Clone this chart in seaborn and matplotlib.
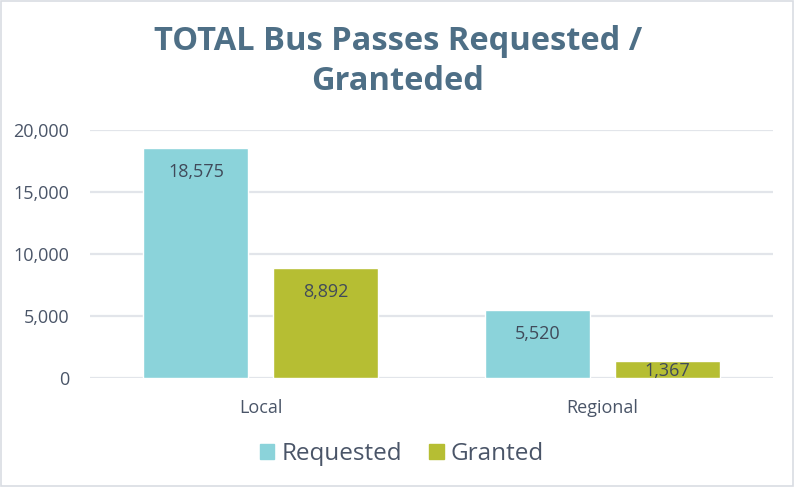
import matplotlib
matplotlib.use("Agg")
import matplotlib.pyplot as plt
import matplotlib.patches as mpatches
import seaborn as sns
import pandas as pd

categories = ["Local", "Regional"]
requested = [18575, 5520]
granted = [8892, 1367]
series_names = ["Requested", "Granted"]
yticks = [0, 5000, 10000, 15000, 20000]

colors = {"Requested": "#8bd3da", "Granted": "#b6be33"}
text_color = "#4a5568"
title_color = "#4e6f86"
grid_color = "#e2e5ea"

df = pd.DataFrame({
    "category": categories * 2,
    "series": [series_names[0]] * len(categories) + [series_names[1]] * len(categories),
    "value": requested + granted,
})

sns.set_theme(style="white")
plt.rcParams["font.family"] = ["Open Sans", "DejaVu Sans"]

fig = plt.figure(figsize=(7.94, 4.87), dpi=100)
ax = fig.add_axes([90 / 794, 1 - 378 / 487, (773 - 90) / 794, (378 - 130) / 487])

sns.barplot(data=df, x="category", y="value", hue="series", palette=colors,
            hue_order=series_names, order=categories, width=0.76, gap=0.19,
            saturation=1, legend=False, ax=ax)

ax.set_ylim(0, 20000)
ax.set_yticks(yticks)
ax.set_yticklabels([f"{v:,}" for v in yticks], fontsize=13, color=text_color)
ax.tick_params(axis="x", labelsize=13, colors=text_color, length=0, pad=15)
ax.tick_params(axis="y", length=0, pad=15)
ax.set_xlabel("")
ax.set_ylabel("")
ax.yaxis.grid(True, color=grid_color, linewidth=1.6)
ax.set_axisbelow(True)
for s in ax.spines.values():
    s.set_visible(False)

# value labels inside the top of each bar
px_per_unit = (378 - 130) / 20000
for bar in ax.patches:
    h = bar.get_height()
    if h <= 0:
        continue
    off_px = min(24, h * px_per_unit * 0.5 + 1)
    ax.annotate(f"{int(round(h)):,}", (bar.get_x() + bar.get_width() / 2, h),
                xytext=(0, -off_px * 0.72), textcoords="offset points",
                ha="center", va="center", fontsize=13, color="#404a5a")

title_kw = dict(ha="center", va="center", fontsize=23.5, fontweight="bold",
                color=title_color, family=["Open Sans", "DejaVu Sans"])
fig.text(398 / 794, 1 - 41 / 487, "TOTAL Bus Passes Requested /", **title_kw)
fig.text(398 / 794, 1 - 82 / 487, "Granteded", **title_kw)

handles = [mpatches.Patch(color=colors[n], label=n) for n in series_names]
fig.legend(handles=handles, loc="center", bbox_to_anchor=(402 / 794, 1 - 454 / 487),
           ncol=2, frameon=False, fontsize=17.5, labelcolor=text_color,
           handlelength=0.6, handleheight=0.6, handletextpad=0.3, columnspacing=1.1)

border = mpatches.Rectangle((1 / 794, 1 / 487), 792 / 794, 485 / 487, transform=fig.transFigure,
                            fill=False, edgecolor="#d9dde3", linewidth=1.2)
fig.patches.append(border)

fig.savefig("out.png", dpi=100)
